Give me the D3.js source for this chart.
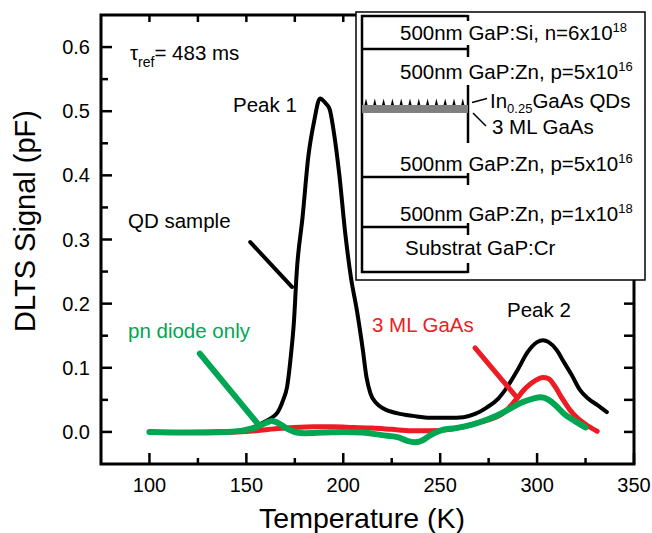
<!DOCTYPE html>
<html>
<head>
<meta charset="utf-8">
<script src="https://cdn.jsdelivr.net/npm/d3@7"></script>
<style>
  body { margin: 0; background: #fff; }
  svg { font-family: "Liberation Sans", Arial, sans-serif; }
</style>
</head>
<body>
<svg id="chart" width="652" height="533"></svg>
<script>
// DLTS data, [temperature K, signal pF]
var qdSample = [[100,0],[120,0],[140,0.001],[150,0.004],[155,0.009],[159,0.015],[163,0.022],[166,0.03],
  [169,0.05],[171,0.07],[173,0.12],[174.5,0.17],[176,0.25],[179,0.335],[182,0.43],[185,0.485],[188,0.52],
  [191,0.512],[193,0.503],[195,0.47],[198,0.40],[201,0.31],[204,0.24],[207,0.19],[210,0.13],[212,0.085],
  [214,0.06],[217,0.045],[221,0.036],[228,0.029],[236,0.025],[245,0.022],[255,0.022],[262,0.023],[268,0.028],
  [274,0.038],[280,0.052],[285,0.072],[290,0.097],[295,0.124],[300,0.14],[303,0.143],[306,0.14],[310,0.128],
  [314,0.108],[318,0.088],[322,0.066],[326,0.053],[331,0.042],[336,0.031]];
var mlGaAs = [[100,0],[110,-0.001],[130,-0.001],[145,0],[155,0.002],[165,0.005],[175,0.007],[185,0.008],
  [195,0.008],[205,0.007],[215,0.006],[225,0.004],[235,0.002],[245,0.002],[255,0.004],[262,0.008],[270,0.015],
  [278,0.022],[284,0.033],[289,0.05],[294,0.068],[299,0.08],[303,0.085],[306,0.083],[309,0.072],[313,0.052],
  [317,0.034],[321,0.021],[325,0.012],[331,0.001]];
var pnDiode = [[100,0],[120,-0.001],[140,0],[148,0.002],[155,0.007],[160,0.014],[163,0.017],[167,0.013],
  [171,0.005],[176,-0.001],[180,-0.002],[190,-0.001],[200,0],[210,-0.001],[220,-0.005],[228,-0.008],
  [233,-0.014],[237,-0.016],[241,-0.013],[245,-0.005],[250,0.002],[258,0.006],[266,0.011],[274,0.019],
  [281,0.028],[287,0.038],[293,0.047],[298,0.052],[302,0.054],[306,0.05],[310,0.04],[314,0.028],
  [319,0.018],[325,0.007]];

var xTicks = [100, 150, 200, 250, 300, 350];
var yTicks = [0, 0.1, 0.2, 0.3, 0.4, 0.5, 0.6];

// leader lines for the curve labels, in data coords
var qdLeader = [[152, 0.296], [173.5, 0.226]];
var mlLeader = [[268, 0.131], [289.5, 0.054]];
var pnLeader = [[126, 0.122], [155.5, 0.014]];

// sample structure in the inset, top to bottom
var layers = [
  {text: "500nm GaP:Si, n=6x10", sup: "18"},
  {text: "500nm GaP:Zn, p=5x10", sup: "16"},
  {text: "500nm GaP:Zn, p=5x10", sup: "16"},
  {text: "500nm GaP:Zn, p=1x10", sup: "18"},
  {text: "Substrat GaP:Cr", sup: ""}
];

var svg = d3.select("#chart");
var mLeft = 101, mRight = 634, mTop = 15, mBottom = 464;
var boxBottom = 280, boxLeft = 356;

var x = d3.scaleLinear().domain([75, 350]).range([mLeft, mRight]);
var y = d3.scaleLinear().domain([-0.05, 0.65]).range([mBottom, mTop]);

// ticks (inward)
var g = svg.append("g").attr("stroke", "#000").attr("stroke-width", 2.5);
d3.range(100, 351, 25).forEach(function (t) {
  var len = t % 50 == 0 ? 11 : 6;
  g.append("line").attr("x1", x(t)).attr("x2", x(t)).attr("y1", mBottom).attr("y2", mBottom - len);
  if (x(t) < boxLeft - 3) {
    g.append("line").attr("x1", x(t)).attr("x2", x(t)).attr("y1", mTop).attr("y2", mTop + 7);
  }
});
d3.range(0, 13).forEach(function (i) {
  var v = i * 0.05;
  var len = i % 2 == 0 ? 11 : 7;
  g.append("line").attr("x1", mLeft).attr("x2", mLeft + len).attr("y1", y(v)).attr("y2", y(v));
  if (y(v) > boxBottom + 5) {
    g.append("line").attr("x1", mRight).attr("x2", mRight - 10).attr("y1", y(v)).attr("y2", y(v));
  }
});

// frame
svg.append("path")
  .attr("d", "M" + boxLeft + "," + mTop + "H" + mLeft + "V" + mBottom + "H" + mRight + "V" + boxBottom)
  .attr("fill", "none").attr("stroke", "#000").attr("stroke-width", 3);

// tick labels
svg.selectAll(".xl").data(xTicks).enter().append("text")
  .attr("x", function (d) { return x(d); }).attr("y", 492)
  .attr("text-anchor", "middle").attr("font-size", 20).text(function (d) { return d; });
svg.selectAll(".yl").data(yTicks).enter().append("text")
  .attr("x", 90).attr("y", function (d) { return y(d) + 7; })
  .attr("text-anchor", "end").attr("font-size", 20).text(function (d) { return d.toFixed(1); });

// axis titles
svg.append("text").attr("x", 362).attr("y", 528).attr("text-anchor", "middle")
  .attr("font-size", 28.5).text("Temperature (K)");
svg.append("text").attr("transform", "translate(35,221) rotate(-90)")
  .attr("text-anchor", "middle").attr("font-size", 29).text("DLTS Signal (pF)");

// curves
var line = d3.line().x(function (d) { return x(d[0]); }).y(function (d) { return y(d[1]); })
  .curve(d3.curveMonotoneX);
var straight = d3.line().x(function (d) { return x(d[0]); }).y(function (d) { return y(d[1]); });

var series = [
  {data: qdSample, lead: qdLeader, color: "#000", w: 4},
  {data: mlGaAs, lead: mlLeader, color: "#ed1c24", w: 5},
  {data: pnDiode, lead: pnLeader, color: "#00a651", w: 6}
];
series.forEach(function (s) {
  svg.append("path").attr("d", line(s.data)).attr("fill", "none").attr("stroke", s.color)
    .attr("stroke-width", s.w).attr("stroke-linejoin", "round").attr("stroke-linecap", "round");
  svg.append("path").attr("d", straight(s.lead)).attr("fill", "none").attr("stroke", s.color)
    .attr("stroke-width", s.w).attr("stroke-linecap", "round");
});

// labels
function label(txt, px, py, color) {
  return svg.append("text").attr("x", px).attr("y", py).attr("font-size", 20.5)
    .attr("fill", color || "#000").text(txt);
}
label("Peak 1", 233, 112);
label("QD sample", 128, 228);
label("pn diode only", 128, 338, "#00a651");
label("3 ML GaAs", 372, 332, "#ed1c24");
label("Peak 2", 507, 317);

var tau = svg.append("text").attr("x", 130).attr("y", 60).attr("font-size", 20.5);
tau.append("tspan").text("\u03c4");
tau.append("tspan").attr("font-size", 14).attr("dy", 7).text("ref");
tau.append("tspan").attr("dy", -7).text("= 483 ms");

// inset box
var inset = svg.append("g");
inset.append("rect").attr("x", boxLeft).attr("y", 12).attr("width", 645 - boxLeft).attr("height", boxBottom - 12)
  .attr("fill", "#fff").attr("stroke", "#000").attr("stroke-width", 1.5);

var sx0 = 362, sx1 = 468;
var stroke = function (sel) { return sel.attr("stroke", "#000").attr("stroke-width", 2.5).attr("fill", "none"); };
stroke(inset.append("path").attr("d", "M" + sx1 + ",16H" + sx0 + "V272H" + sx1));
[49, 177, 227].forEach(function (yy) {
  stroke(inset.append("line").attr("x1", sx0).attr("x2", sx1).attr("y1", yy).attr("y2", yy));
  stroke(inset.append("line").attr("x1", sx1).attr("x2", sx1).attr("y1", yy - 4).attr("y2", yy + 8));
});
stroke(inset.append("line").attr("x1", sx1).attr("x2", sx1).attr("y1", 15).attr("y2", 21));
stroke(inset.append("line").attr("x1", sx1).attr("x2", sx1).attr("y1", 85).attr("y2", 143));
stroke(inset.append("line").attr("x1", sx1).attr("x2", sx1).attr("y1", 263).attr("y2", 273));

// wetting layer and dots
inset.append("rect").attr("x", sx0).attr("y", 105).attr("width", sx1 - sx0).attr("height", 8).attr("fill", "#808080");
d3.range(12).forEach(function (i) {
  var cx = 366 + i * 8.8;
  inset.append("path").attr("d", "M" + (cx - 1.6) + ",105L" + cx + ",98.5L" + (cx + 1.6) + ",105Z").attr("fill", "#000");
});
stroke(inset.append("line").attr("x1", 472).attr("y1", 102.5).attr("x2", 487).attr("y2", 98.5)).attr("stroke-width", 1.5);
stroke(inset.append("line").attr("x1", 473).attr("y1", 113).attr("x2", 486).attr("y2", 126)).attr("stroke-width", 1.5);

var layerY = [40, 79, 171, 221, 255];
layers.forEach(function (l, i) {
  var t = inset.append("text").attr("x", i == 4 ? 405 : 400).attr("y", layerY[i]).attr("font-size", 20.5);
  t.append("tspan").text(l.text);
  if (l.sup) t.append("tspan").attr("font-size", 13).attr("dy", -8).text(l.sup);
});
var qd = inset.append("text").attr("x", 490).attr("y", 108).attr("font-size", 20.5);
qd.append("tspan").text("In");
qd.append("tspan").attr("font-size", 13).attr("dy", 5).text("0.25");
qd.append("tspan").attr("dy", -5).text("GaAs QDs");
inset.append("text").attr("x", 492).attr("y", 134).attr("font-size", 20.5).text("3 ML GaAs");
</script>
</body>
</html>
